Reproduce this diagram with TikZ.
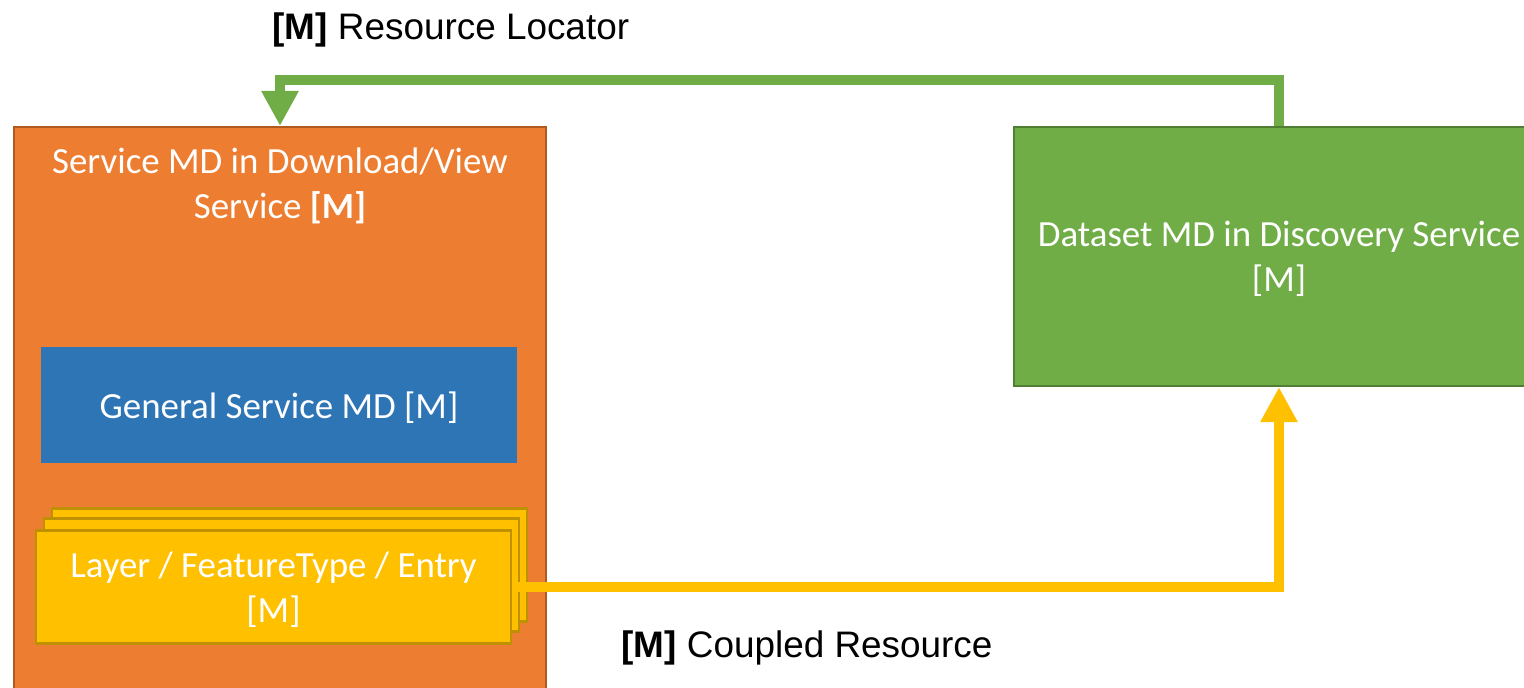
\documentclass[tikz,border=0pt]{standalone}
\usepackage{fontspec}
\setmainfont{Carlito}
\newfontfamily\arialfont{Liberation Sans}
\usetikzlibrary{arrows.meta}
\definecolor{svcorange}{HTML}{ED7D31}
\definecolor{svcorangedark}{HTML}{AE5A21}
\definecolor{genblue}{HTML}{2E75B6}
\definecolor{layeryellow}{HTML}{FFC000}
\definecolor{layeryellowdark}{HTML}{BF9000}
\definecolor{dsgreen}{HTML}{70AD47}
\definecolor{dsgreendark}{HTML}{507E32}
\def\px{0.02cm}

\begin{document}
\begin{tikzpicture}[x=\px,y=-\px,
	mdbox/.style={line width=1.2pt, text=white, align=center, inner sep=0pt, text depth=0pt,
		font=\fontsize{21}{25.5}\selectfont},
	layerbox/.style={mdbox, draw=layeryellowdark, fill=layeryellow,
		minimum width=475*\px, minimum height=113*\px},
	link/.style={line width=6.2pt, -{Triangle[width=20pt,length=20pt]}},
	linklabel/.style={anchor=west, inner sep=0pt, font=\arialfont\fontsize{21}{25}\selectfont}]
	\useasboundingbox (0,0) rectangle (1524,687);
	% service metadata box
	\node[mdbox, draw=svcorangedark, fill=svcorange, minimum width=532*\px, minimum height=600*\px] (svc) at (280,427) {};
	\node[mdbox] (svctitle) at (280,183) {Service MD in Download/View\\Service \textbf{[M]}};
	\node[mdbox, fill=genblue, minimum width=476*\px, minimum height=116*\px] (gen) at (279,405) {General Service MD [M]};
	% stacked layers
	\node[layerbox] (layer3) at (289.5,565) {};
	\node[layerbox] (layer2) at (281.5,575) {};
	\node[layerbox] (layer) at (273.5,587) {Layer / FeatureType / Entry\\{}[M]};
	% dataset metadata box
	\node[mdbox, draw=dsgreendark, fill=dsgreen, minimum width=530*\px, minimum height=259*\px] (dsm) at (1279,256.5) {Dataset MD in Discovery Service\\{}[M]};
	% links
	\coordinate (rlturn) at (280,80);
	\draw[link, dsgreen] (dsm.north) |- (rlturn) -- (svc.north);
	\draw[link, layeryellow] (layer.east) -| (dsm.south);
	\node[linklabel] (rltext) at (272,30) {\textbf{[M]} Resource Locator};
	\node[linklabel] (crtext) at (621,648) {\textbf{[M]} Coupled Resource};
\end{tikzpicture}
\end{document}
